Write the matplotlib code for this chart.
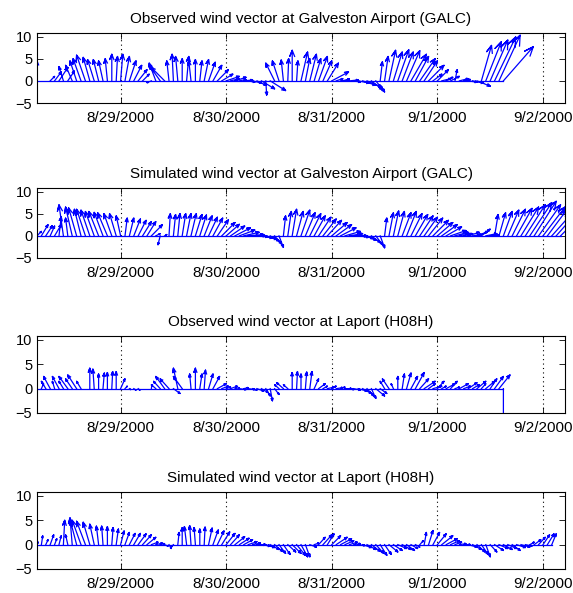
import numpy as np
import matplotlib
matplotlib.use('Agg')
import matplotlib.pyplot as plt

plt.rcParams['font.family'] = ['Liberation Sans', 'DejaVu Sans']
plt.rcParams['font.size'] = 10

# hourly wind components (m/s), first sample at 8/28/2000 05:00 (hour 5)
start_hour = 5

obs_galc_u = [
    0, 0, 0, 1.0, 1.5, 2.0, -1.0, 1.5,
    -1.5, -1.5, -1.8, -2.0, -1.5, -1.5, -1.2, -1.0, -0.5, 0.0, 0.3, 0.5,
    1.0, 1.5, 1.8, 2.0, 1.5, 0, -1.0, -1.5, -2.5, -3.0, -0.5, -0.3,
    -0.5, 0, 0.5, -0.5, 0, 0.5, 1.0, 1.5, 2.0, 2.5, 2.5, 3.0,
    2.0, 2.5, 1.5, 2.0, 1.5, 2.0, 2.0, 3.0, 0.2, 3.5, -2.0, -1.5,
    -0.5, 0.2, 0.0, 0.3, 1.5, 1.0, 1.5, 1.5, 2.0, 2.0, 2.5, 3.8,
    1.5, 2.0, 1.0, 2.0, 1.5, 2.5, 3.0, 3.5, 2.5, 2.0, 0.5, 0.8,
    1.5, 2.0, 2.5, 2.5, 3.0, 3.5, 3.0, 3.5, 3.0, 3.5, 2.0, 2.5,
    2.0, 1.5, 2.0, 0.5, 2.0, 1.5, 2.0, 2.5, 3.0, 2.3, 3.5, 4.0,
    4.8, 4.8, 6.8]
obs_galc_v = [
    4.5, 0, 0, 1.0, 2.0, 3.0, 3.2, 2.2,
    3.5, 4.5, 5.0, 5.8, 5.3, 4.8, 4.8, 4.5, 5.0, 6.0, 5.5, 6.0,
    5.5, 4.5, 3.5, 2.5, 1.5, 0, -0.4, 4.0, 3.5, 3.0, 4.5, 6.0,
    5.5, 5.0, 5.5, 4.5, 4.8, 4.5, 4.8, 4.2, 3.5, 2.5, 1.5, 1.0,
    0.5, 0.8, 0.3, 0.2, -0.3, -0.5, -1.0, -1.8, -3.2, -2.2, 4.0, 4.5,
    4.7, 5.0, 6.9, 4.5, 6.5, 5.0, 6.0, 5.0, 5.5, 4.5, 4.0, 2.0,
    0.5, 0.3, 0.5, 0.2, -0.3, -0.5, -1.0, -1.5, -2.0, -2.5, 4.3, 5.5,
    6.9, 6.5, 7.0, 6.5, 6.8, 6.0, 5.5, 5.0, 4.5, 3.5, 1.5, 2.5,
    0.5, 0.8, 1.0, 2.5, 0.5, 0.3, -0.3, -0.5, -1.2, 8.0, 8.8, 9.2,
    9.9, 10.3, 7.7]

sim_galc_u = [
    1.0, 1.5, 1.5, 1.0, 1.5, 0.5, -1.0, -0.5,
    -1.5, -1.8, -1.5, -2.0, -2.0, -2.0, -2.2, -2.0, -2.2, -1.8, -1.5, -1.0,
    0.5, 1.0, 1.5, 1.8, 2.0, 2.0, 2.5, 1.0, -0.5, 0.5, 0.3, 0.5,
    0.5, 0.8, 1.0, 1.2, 1.5, 1.5, 1.8, 2.0, 2.2, 2.5, 3.0, 3.0,
    3.2, 3.5, 3.5, 3.5, 3.5, 3.0, 2.5, 2.5, 2.5, 2.0, 1.5, 1.0,
    0.5, 0.8, 1.0, 1.5, 2.0, 2.2, 2.5, 2.5, 2.8, 3.0, 3.2, 3.5,
    3.5, 3.5, 3.5, 3.0, 3.0, 2.5, 2.5, 2.0, 2.0, 1.5, 1.0, 0.5,
    1.0, 1.2, 1.5, 2.0, 2.2, 2.5, 2.8, 3.0, 3.0, 3.2, 3.5, 3.5,
    3.5, 3.5, 3.5, 3.0, 2.5, 2.0, 2.5, 2.0, 2.5, 2.0, 2.5, 2.0,
    0.8, 1.5, 2.0, 2.5, 3.0, 3.5, 4.0, 4.5, 5.0, 5.0, 5.0, 5.0,
    4.5, 4.5, 4.0, 4.0]
sim_galc_v = [
    1.0, 2.5, 2.3, 2.2, 2.5, 4.3, 7.0, 4.0,
    6.5, 6.3, 6.0, 6.0, 5.8, 5.5, 5.5, 5.3, 5.2, 5.0, 5.0, 4.5,
    4.0, 4.0, 3.8, 3.5, 3.2, 3.2, 2.5, 0.5, -2.0, 0.3, 5.0, 4.8,
    5.0, 5.0, 5.0, 5.0, 4.8, 4.7, 4.5, 4.2, 4.0, 3.6, 3.0, 2.6,
    2.2, 1.8, 1.3, 0.8, 0.3, 0.0, -0.2, -0.5, -0.8, -1.2, -1.8, -2.6,
    4.5, 5.5, 6.0, 5.5, 5.8, 5.2, 5.0, 4.5, 4.2, 3.8, 3.5, 3.0,
    2.5, 1.8, 1.0, 0.5, 0.0, -0.3, -0.6, -1.0, -1.5, -2.0, -2.7, 4.0,
    5.2, 5.6, 5.5, 5.2, 5.5, 5.0, 4.8, 4.5, 4.2, 4.0, 3.5, 3.0,
    2.5, 2.0, 1.2, 0.8, 0.5, 0.5, 0.8, 0.3, 1.0, 1.5, 0.5, 0.2,
    4.8, 5.2, 5.5, 5.8, 6.0, 6.2, 6.5, 7.0, 7.5, 7.8, 7.0, 6.5,
    6.0, 5.0, 4.5, 4.0]

obs_lap_u = [
    0, 0.5, -1.0, -1.5, -0.5, -1.5, -1.0, -2.0,
    -1.5, -2.0, -1.0, 0, 0.0, -0.3, 0.0, 0.3, 0.0, 0.2, 0.0, 1.0,
    0.5, 0.3, 0.5, 0.4, 0, 0, 0.1, -1.0, -1.5, -2.0, -2.0, 1.5,
    -1.0, -2.0, 0, -0.3, 0.0, 0.5, 0.3, 1.0, 1.5, 2.0, 1.5, 1.0,
    1.5, 1.0, 1.5, 1.0, 1.5, 1.0, 1.5, 1.5, 1.0, 0.5, 1.0, -1.0,
    -1.5, -1.0, 0.0, 0.2, 0.0, 0.3, 0.5, 1.0, 1.5, 1.0, 1.5, 1.0,
    1.5, 1.0, 1.5, 1.0, 1.5, 2.0, 2.0, 1.5, 1.0, 2.0, 1.5, -1.0,
    -1.5, -0.5, 0.0, 0.5, 1.0, 1.5, 2.0, 2.0, 2.5, 1.5, 2.0, 1.5,
    1.0, 2.0, 1.5, 1.0, 2.0, 1.5, 2.0, 1.5, 2.0, 1.0, 2.0, 1.5,
    2.0, 2.5, 0.0]
obs_lap_v = [
    0, 1.0, 1.5, 2.5, 1.5, 2.5, 1.5, 2.5,
    2.0, 2.8, 1.5, 0, 4.2, 4.0, 3.0, 3.2, 3.3, 3.5, 3.5, 2.0,
    0.5, -0.2, -0.3, -0.3, 0, 0, 0.8, 0.8, 1.5, 2.5, 2.0, -1.0,
    4.2, 2.5, 0, 3.0, 4.2, 3.0, 3.8, 3.0, 2.5, 1.0, 0.5, 0.3,
    0.5, 0.2, -0.2, 0.2, -0.2, -0.3, -0.5, -0.8, -1.5, -2.5, -1.2, 0.8,
    1.2, 0.8, 3.3, 3.5, 3.0, 3.4, 3.5, 2.0, 1.0, 0.5, 0.3, 0.5,
    0.2, 0.3, 0.0, -0.2, -0.3, -0.5, -1.0, -1.5, -2.0, -1.5, -1.0, 1.5,
    2.0, 1.0, 2.5, 3.0, 3.2, 2.5, 3.3, 2.0, 1.5, 1.0, 0.5, 1.5,
    0.5, 1.0, 1.5, 0.3, 1.0, 0.5, 1.2, 0.8, 1.5, 1.0, 1.5, 2.0,
    2.5, 2.8, -7.0]

sim_lap_u = [
    0.3, 0.3, 0.5, 0.8, 0.5, 0.5, 0.3, -0.5,
    -0.5, -1.5, -2.0, -2.0, -1.5, -1.0, -0.5, -0.3, 0.0, 0.3, 0.5, 0.8,
    1.0, 1.3, 1.5, 1.8, 2.0, 2.0, 1.5, 1.5, 1.0, 0.8, 0.5, -0.5,
    0.3, 0.0, -0.5, -0.3, -0.3, 0.0, 0.2, 0.8, 1.2, 1.5, 1.8, 2.0,
    2.0, 2.2, 2.2, 2.0, 2.0, 1.8, 2.0, 2.0, 2.0, 2.0, 1.8, 1.5,
    1.5, 1.8, 2.0, 2.0, 1.5, 1.0, 1.5, 1.0, 1.5, 2.0, 1.5, 2.0,
    2.5, 2.5, 2.0, 1.8, 1.5, 1.5, 2.0, 2.0, 2.0, 1.8, 1.5, 1.5,
    2.0, 2.0, 2.0, 2.0, 1.8, 1.5, 1.0, 0.8, 0.5, 1.0, 1.5, 2.0,
    2.5, 2.5, 2.0, 1.5, 1.5, 1.5, 2.0, 2.0, 1.8, 1.5, 1.0, 1.5,
    2.0, 2.0, 2.0, 2.0, 1.8, 2.0, 2.0, 1.5, 1.0, 1.5, 1.5, 1.5,
    1.5, 1.0]
sim_lap_v = [
    0.5, 1.8, 1.0, 2.0, 1.2, 1.8, 5.0, 2.0,
    5.5, 5.2, 5.0, 4.8, 4.6, 4.2, 3.8, 3.8, 3.7, 3.5, 3.2, 2.8,
    2.5, 2.3, 2.3, 2.2, 2.0, 1.5, 0.5, 0.3, 0.2, -0.3, -0.8, -0.5,
    2.5, 3.5, 3.7, 3.9, 3.5, 3.2, 3.6, 3.4, 3.0, 2.8, 2.6, 2.3,
    2.0, 1.6, 1.3, 1.0, 0.6, 0.3, 0.0, -0.3, -0.6, -1.0, -1.4, -1.8,
    -2.0, -1.5, -1.8, -2.2, -2.5, -2.5, -0.5, 0.3, 1.5, 2.0, 2.2, 1.8,
    1.5, 1.2, 0.8, 0.5, 0.2, -0.2, -0.6, -1.0, -1.4, -1.8, -2.2, -2.0,
    -1.5, -1.2, -0.8, -1.0, -1.2, -0.8, -0.5, 0.8, 2.5, 2.9, 2.5, 2.2,
    1.8, 1.2, 0.8, 0.5, 0.2, 0.0, -0.5, -1.0, -1.5, -2.0, -2.5, -1.5,
    -1.2, -0.8, -1.0, -0.8, -1.2, -0.6, -0.5, -0.3, 0.5, 1.0, 1.5, 2.0,
    2.2, 2.2]

titles = ['Observed wind vector at Galveston Airport (GALC)',
          'Simulated wind vector at Galveston Airport (GALC)',
          'Observed wind vector at Laport (H08H)',
          'Simulated wind vector at Laport (H08H)']
tick_hours = [24, 48, 72, 96, 120]
tick_labels = ['8/29/2000', '8/30/2000', '8/31/2000', '9/1/2000', '9/2/2000']


def feather(ax, u, v, t0):
    # same arrow shape as matlab's feather()
    u = np.asarray(u, dtype=float)
    v = np.asarray(v, dtype=float)
    t = t0 + np.arange(len(u))
    z = u + 1j * v
    arrow = np.array([0, 1, .8, 1, .8]) + 1j * np.array([0, 0, .08, 0, -.08])
    a = arrow[:, None] * z[None, :]
    gap = np.full((1, len(t)), np.nan)
    xs = np.vstack([a.real + t, gap]).T.ravel()
    ys = np.vstack([a.imag, gap]).T.ravel()
    ax.plot(xs, ys, color='b', lw=0.9)
    ax.plot([t[0], t[-1]], [0, 0], color='b', lw=0.9)


W, H = 573, 593
fig = plt.figure(figsize=(W / 100, H / 100), dpi=100)

# axes boxes in pixels: (top, bottom)
boxes = [(33, 103), (188, 258), (336, 413), (492, 569)]
series = [(obs_galc_u, obs_galc_v), (sim_galc_u, sim_galc_v),
          (obs_lap_u, obs_lap_v), (sim_lap_u, sim_lap_v)]

for (top, bot), (u, v), title in zip(boxes, series, titles):
    ax = fig.add_axes([37 / W, 1 - bot / H, 528 / W, (bot - top) / H])
    feather(ax, u, v, start_hour)
    ax.set_xlim(5, 125)
    ax.set_ylim(-5, 10.8)
    ax.set_yticks([-5, 0, 5, 10])
    ax.set_xticks(tick_hours)
    ax.set_xticklabels(tick_labels)
    ax.xaxis.grid(True, linestyle=(0, (1, 3)), color='k', lw=0.8)
    ax.tick_params(direction='in', top=True, right=True, length=4,
                   width=0.6, labelsize=10.5)
    ax.tick_params(axis='x', pad=6, labelsize=11)
    for s in ax.spines.values():
        s.set_linewidth(0.8)
    ax.set_title(title, fontsize=11, pad=7)

fig.savefig('out.png', dpi=100)
